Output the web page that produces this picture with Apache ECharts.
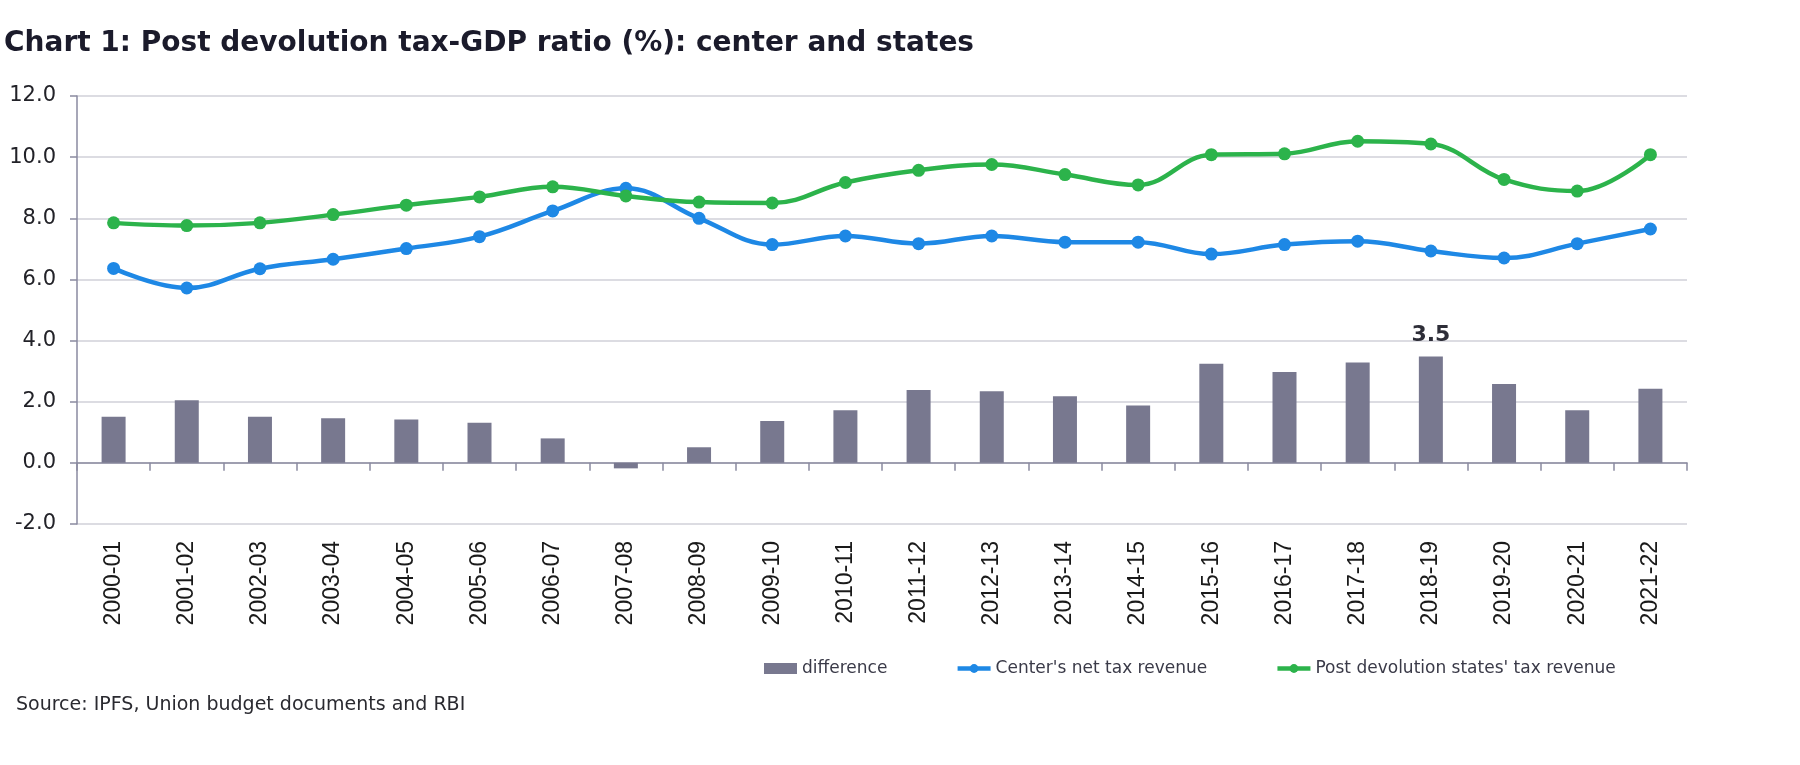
<!DOCTYPE html>
<html>
<head>
<meta charset="utf-8">
<script src="https://cdn.jsdelivr.net/npm/echarts@6/dist/echarts.min.js"></script>
<style>
html,body{margin:0;padding:0;background:#fff;}
#chart{width:1800px;height:765px;}
</style>
</head>
<body>
<div id="chart"></div>
<script>
const categories = ['2000-01','2001-02','2002-03','2003-04','2004-05','2005-06','2006-07','2007-08','2008-09','2009-10','2010-11','2011-12','2012-13','2013-14','2014-15','2015-16','2016-17','2017-18','2018-19','2019-20','2020-21','2021-22'];
const difference = [1.51,2.05,1.51,1.46,1.42,1.31,0.80,-0.18,0.51,1.37,1.72,2.38,2.34,2.18,1.88,3.24,2.97,3.28,3.48,2.58,1.72,2.42];
const centerNet = [6.36,5.72,6.35,6.66,7.01,7.40,8.24,8.98,8.00,7.14,7.42,7.17,7.42,7.22,7.22,6.83,7.14,7.25,6.93,6.70,7.17,7.65];
const statesPost = [7.85,7.76,7.85,8.12,8.43,8.70,9.03,8.73,8.53,8.50,9.17,9.57,9.76,9.43,9.09,10.08,10.11,10.52,10.43,9.27,8.89,10.08];
const labelledCategory = '2018-19';
const yTicks = {min: -2, max: 12, interval: 2};

const chart = echarts.init(document.getElementById('chart'), null, {renderer: 'canvas'});
const axisColor = '#8a8aa0';
const barData = difference.map((v, i) => categories[i] === labelledCategory
  ? {value: v, label: {show: true}} : v);

chart.setOption({
  animation: false,
  backgroundColor: '#ffffff',
  title: [
    {text: 'Chart 1: Post devolution tax-GDP ratio (%): center and states', left: 4, top: 29, padding: 0,
     textStyle: {fontFamily: 'DejaVu Sans', fontWeight: 'bold', fontSize: 28, color: '#1b1b2b', lineHeight: 29}},
    {text: 'Source: IPFS, Union budget documents and RBI', left: 16, top: 696, padding: 0,
     textStyle: {fontFamily: 'DejaVu Sans', fontWeight: 'normal', fontSize: 19, color: '#2a2a30', lineHeight: 19}}
  ],
  legend: {
    left: 764, top: 660, padding: 0, itemGap: 68, itemWidth: 33, itemHeight: 11,
    lineStyle: {width: 4.5},
    textStyle: {fontFamily: 'DejaVu Sans', fontSize: 17, color: '#3a3a48', padding: [0,0,0,0]},
    data: [
      {name: 'difference', icon: 'rect'},
      {name: "Center's net tax revenue"},
      {name: "Post devolution states' tax revenue"}
    ]
  },
  grid: {left: 77, right: 113, top: 96, bottom: 241, containLabel: false},
  xAxis: [
    {type: 'category', data: categories, position: 'bottom',
     axisLine: {show: false, onZero: false}, axisTick: {show: false},
     axisLabel: {rotate: 90, margin: 17, fontFamily: 'Liberation Sans', fontSize: 23, color: '#1a1a1a', interval: 0}},
    {type: 'category', data: categories, position: 'bottom',
     axisLine: {show: true, onZero: true, lineStyle: {color: axisColor, width: 1.5}},
     axisTick: {show: true, length: 8, lineStyle: {color: axisColor, width: 1.5}, interval: 0},
     axisLabel: {show: false}}
  ],
  yAxis: {
    type: 'value', min: yTicks.min, max: yTicks.max, interval: yTicks.interval,
    axisLine: {show: true, lineStyle: {color: axisColor, width: 1.5}},
    axisTick: {show: true, length: 7, lineStyle: {color: axisColor, width: 1.5}},
    axisLabel: {margin: 21, fontFamily: 'DejaVu Sans', fontSize: 21, color: '#222228',
                formatter: v => v.toFixed(1)},
    splitLine: {show: true, lineStyle: {color: '#dcdce2', width: 2}}
  },
  series: [
    {name: 'difference', type: 'bar', xAxisIndex: 0, data: barData, barWidth: 24,
     itemStyle: {color: '#78788f'},
     label: {show: false, position: 'top', distance: 10, fontFamily: 'DejaVu Sans', fontWeight: 'bold',
             fontSize: 22, color: '#2e2e38', formatter: p => Number(p.value).toFixed(1)}},
    {name: "Center's net tax revenue", type: 'line', xAxisIndex: 0, data: centerNet, smooth: 0.4,
     symbol: 'circle', symbolSize: 13, lineStyle: {color: '#1e88e5', width: 4.5},
     itemStyle: {color: '#1e88e5'}},
    {name: "Post devolution states' tax revenue", type: 'line', xAxisIndex: 0, data: statesPost, smooth: 0.4,
     symbol: 'circle', symbolSize: 13, lineStyle: {color: '#2cb34b', width: 4.5},
     itemStyle: {color: '#2cb34b'}}
  ]
});
</script>
</body>
</html>
